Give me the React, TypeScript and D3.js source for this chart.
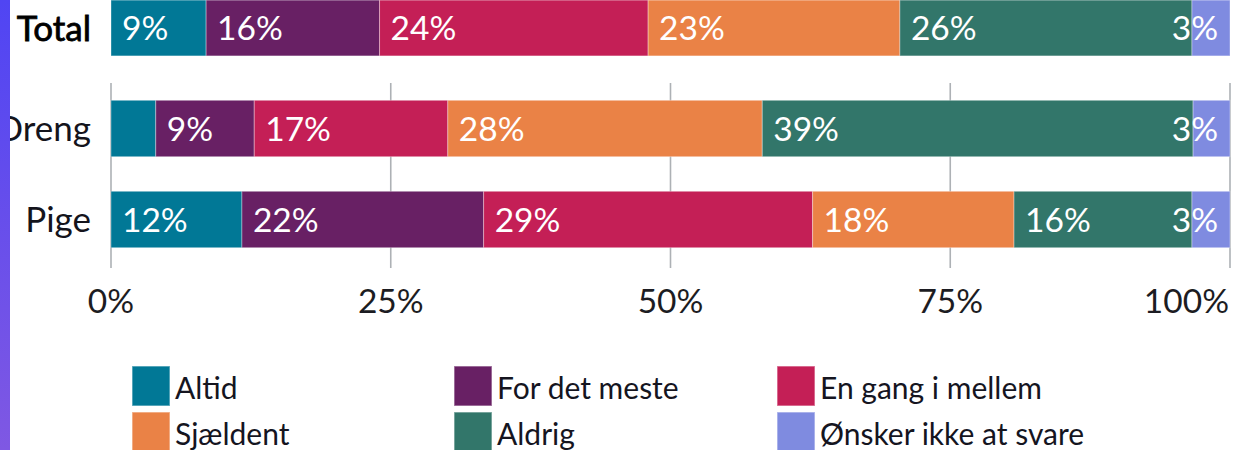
import React from "react";
import * as d3 from "d3";

const seriesNames = ["Altid", "For det meste", "En gang i mellem", "Sjældent", "Aldrig", "Ønsker ikke at svare"];
const seriesColors = ["#017896", "#682064", "#c41f56", "#ea8246", "#32766a", "#7f8be0"];

const totalCategories = ["Total"];
const genderCategories = ["Dreng", "Pige"];

const totalValues = [[8.5, 15.5, 24.0, 22.5, 26.1, 3.4]];
const genderValues = [
  [4.0, 8.8, 17.3, 28.1, 38.5, 3.3],
  [11.7, 21.6, 29.4, 18.0, 15.9, 3.4],
];
// which segments carry a value label
const totalShowLabel = [[true, true, true, true, true, true]];
const genderShowLabel = [
  [false, true, true, true, true, true],
  [true, true, true, true, true, true],
];

const xTicks = [0, 25, 50, 75, 100];

const W = 1235;
const H = 450;
const FONT = "Lato, 'Noto Sans', sans-serif";

const x = d3.scaleLinear().domain([0, 100]).range([111, 1230]);

const yTotal = d3.scaleBand<string>().domain(totalCategories).range([-17, 73]).paddingInner(0.38).paddingOuter(0.19);
const yGender = d3.scaleBand<string>().domain(genderCategories).range([83, 265]).paddingInner(0.38).paddingOuter(0.19);

function buildRows(cats: string[], vals: number[][]) {
  const rows = cats.map((c, i) => {
    const o: any = { cat: c };
    seriesNames.forEach((s, j) => (o[s] = vals[i][j]));
    return o;
  });
  return d3.stack<any>().keys(seriesNames)(rows);
}

function BarGroup({ cats, vals, show, y, heavy }: { cats: string[]; vals: number[][]; show: boolean[][]; y: d3.ScaleBand<string>; heavy: boolean }) {
  const stacked = buildRows(cats, vals);
  const last = seriesNames.length - 1;
  return (
    <g>
      {cats.map((c) => (
        <text
          key={"lab" + c}
          x={91}
          y={(y(c) as number) + y.bandwidth() / 2}
          dy="0.36em"
          textAnchor="end"
          fontFamily={FONT}
          fontSize={35}
          fill={heavy ? "#000" : "#14141c"}
          stroke={heavy ? "#000" : "none"}
          strokeWidth={heavy ? 0.8 : 0}
        >
          {c}
        </text>
      ))}
      {stacked.map((layer, j) =>
        layer.map((d, i) => {
          const cat = cats[i];
          const x0 = x(d[0]);
          const x1 = x(d[1]);
          const yy = y(cat) as number;
          const v = vals[i][j];
          return (
            <g key={cat + j}>
              <rect
                x={x0}
                y={yy}
                width={x1 - x0}
                height={y.bandwidth()}
                fill={seriesColors[j]}
                stroke="#ffffff"
                strokeOpacity={0.35}
                strokeWidth={1}
              />
              {show[i][j] && (
                <text
                  x={j === last ? x(100) - 12 : x0 + 11}
                  y={yy + y.bandwidth() / 2}
                  dy="0.36em"
                  textAnchor={j === last ? "end" : "start"}
                  fontFamily={FONT}
                  fontSize={33.5}
                  fill="#ffffff"
                >
                  {Math.round(v) + "%"}
                </text>
              )}
            </g>
          );
        })
      )}
    </g>
  );
}

export default function App() {
  const legendCols = [132, 454, 777];
  const legendRows = [366, 412];
  return (
    <svg width={W} height={H} style={{ position: "absolute", left: 0, top: 0, background: "#fff" }}>
      <defs>
        <linearGradient id="strip" x1="0" y1="0" x2="0" y2="1">
          <stop offset="0" stopColor="#5045f3" />
          <stop offset="1" stopColor="#7f58e3" />
        </linearGradient>
      </defs>
      <rect x={0} y={0} width={W} height={H} fill="#fff" />
      {/* gridlines for the gender chart */}
      {xTicks.map((t) => (
        <line key={"g" + t} x1={x(t)} x2={x(t)} y1={83} y2={268} stroke="#adb1b5" strokeWidth={1.6} />
      ))}
      <BarGroup cats={totalCategories} vals={totalValues} show={totalShowLabel} y={yTotal} heavy={true} />
      <BarGroup cats={genderCategories} vals={genderValues} show={genderShowLabel} y={yGender} heavy={false} />
      {xTicks.map((t) => (
        <text
          key={"t" + t}
          x={t === 100 ? x(t) - 1 : x(t)}
          y={301}
          dy="0.36em"
          textAnchor={t === 100 ? "end" : "middle"}
          fontFamily={FONT}
          fontSize={33.5}
          fill="#1c1c22"
        >
          {t + "%"}
        </text>
      ))}
      {seriesNames.map((s, j) => {
        const col = j % 3;
        const row = Math.floor(j / 3);
        const lx = legendCols[col];
        const ly = legendRows[row];
        return (
          <g key={"leg" + s}>
            <rect x={lx} y={ly} width={38} height={40} fill={seriesColors[j]} stroke="#ffffff" strokeOpacity={0.45} strokeWidth={1.5} />
            <text x={lx + 43} y={ly + 33} fontFamily={FONT} fontSize={30} fill="#15151f">
              {s}
            </text>
          </g>
        );
      })}
      <rect x={0} y={0} width={10} height={H} fill="url(#strip)" />
    </svg>
  );
}
